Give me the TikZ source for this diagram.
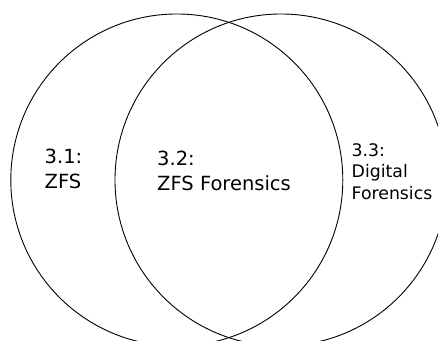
\documentclass[tikz,border=0pt]{standalone}
\usepackage{fontspec}
\setmainfont{DejaVu Sans}
\begin{document}
\begin{tikzpicture}[x=1pt,y=1pt,
  setcircle/.style={draw=black,line width=0.9pt},
  biglabel/.style={anchor=base west,align=left,inner sep=0pt,font=\fontsize{19.5}{24.8}\selectfont},
  smalllabel/.style={anchor=base west,align=left,inner sep=0pt,font=\fontsize{17.3}{21.3}\selectfont}]
\useasboundingbox (0,0) rectangle (438,340);
\begin{scope}
\clip (0,0) rectangle (438,340);
\node[setcircle,circle,minimum size=332pt,inner sep=0pt] (zfs) at (176.8,160) {};
\node[setcircle,circle,minimum size=332pt,inner sep=0pt] (df) at (281,160) {};
\end{scope}
\node[biglabel] (l31) at (44.5,151.3) {3.1:\\ZFS};
\node[biglabel] (l32) at (157,149.5) {3.2:\\ZFS Forensics};
\node[smalllabel] (l33) at (351.5,141) {3.3:\\Digital\\Forensics};
\end{tikzpicture}
\end{document}
